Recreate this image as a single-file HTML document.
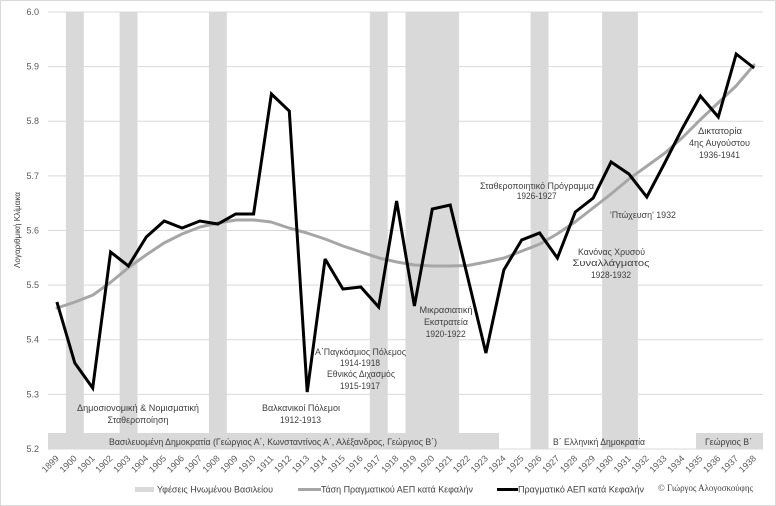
<!DOCTYPE html>
<html><head><meta charset="utf-8"><style>
html,body{margin:0;padding:0;background:#fff;}
svg{display:block;}
text{font-family:"Liberation Sans","DejaVu Sans",sans-serif;}
</style></head><body>
<svg width="776" height="506" viewBox="0 0 776 506" xmlns="http://www.w3.org/2000/svg">
<rect x="0.5" y="0.5" width="775" height="505" fill="#fff" stroke="#d9d9d9" stroke-width="1"/>
<!-- gridlines -->
<g stroke="#d9d9d9" stroke-width="1">
<line x1="48" x2="763" y1="12" y2="12"/>
<line x1="48" x2="763" y1="66.6" y2="66.6"/>
<line x1="48" x2="763" y1="121.2" y2="121.2"/>
<line x1="48" x2="763" y1="175.9" y2="175.9"/>
<line x1="48" x2="763" y1="230.5" y2="230.5"/>
<line x1="48" x2="763" y1="285.1" y2="285.1"/>
<line x1="48" x2="763" y1="339.7" y2="339.7"/>
<line x1="48" x2="763" y1="394.4" y2="394.4"/>
<line x1="48" x2="763" y1="449" y2="449"/>
</g>
<!-- recession bars -->
<g fill="#d9d9d9">
<rect x="65.9" y="12" width="17.9" height="437"/>
<rect x="119.6" y="12" width="17.9" height="437"/>
<rect x="208.9" y="12" width="17.9" height="437"/>
<rect x="369.8" y="12" width="17.9" height="437"/>
<rect x="405.5" y="12" width="53.6" height="437"/>
<rect x="530.6" y="12" width="17.9" height="437"/>
<rect x="602.1" y="12" width="35.8" height="437"/>
<!-- regime bands -->
<rect x="48" y="433" width="451" height="16"/>
<rect x="696" y="433" width="67" height="16"/>
</g>
<!-- y tick labels -->
<g font-size="9" fill="#595959" text-anchor="end">
<text x="39" y="15">6.0</text>
<text x="39" y="69.6">5.9</text>
<text x="39" y="124.2">5.8</text>
<text x="39" y="178.9">5.7</text>
<text x="39" y="233.5">5.6</text>
<text x="39" y="288.1">5.5</text>
<text x="39" y="342.7">5.4</text>
<text x="39" y="397.4">5.3</text>
<text x="39" y="452">5.2</text>
</g>
<text transform="translate(20,230) rotate(-90)" font-size="8" fill="#404040" text-anchor="middle" textLength="76" lengthAdjust="spacingAndGlyphs">Λογαριθμική Κλίμακα</text>
<!-- trend line -->
<polyline fill="none" stroke="#a6a6a6" stroke-width="3" stroke-linejoin="round" stroke-linecap="round" points="57,308 75,302 93,295 111,282 128,268 146,255 164,243 182,234 200,227 218,223 236,220 254,220 271,222 289,228 307,233 325,239 343,246 361,252 379,258 397,262 414,265 432,266 450,266 468,265.5 486,262 504,258 522,251 540,244 557,234 575,222 593,208 611,194 629,179 647,166 665,153 683,137 700,120 718,103 736,86 754,65"/>
<!-- actual line -->
<polyline fill="none" stroke="#000" stroke-width="3" stroke-linejoin="miter" stroke-miterlimit="3" points="56.9,302 74.8,363 92.7,388 110.6,252 128.4,266 146.3,237 164.2,221 182.1,228 199.9,221 217.8,224 235.7,214 253.6,214 271.4,94 289.3,111 307.2,392 325.1,259 342.9,289 360.8,287 378.7,307 396.6,201 414.4,306 432.3,209 450.2,205 468.1,279 485.9,353 503.8,270 521.7,240 539.6,233 557.4,258 575.3,212 593.2,198 611.1,162 628.9,174 646.8,197 664.7,163 682.6,128 700.4,96 718.3,117 736.2,54 754.1,68"/>
<!-- annotations -->
<g font-size="9" fill="#404040" text-anchor="middle">
<text x="138" y="411" textLength="122" lengthAdjust="spacingAndGlyphs">Δημοσιονομική &amp; Νομισματική</text>
<text x="138" y="423" textLength="61" lengthAdjust="spacingAndGlyphs">Σταθεροποίηση</text>
<text x="301" y="411" textLength="78" lengthAdjust="spacingAndGlyphs">Βαλκανικοί Πόλεμοι</text>
<text x="300.5" y="423" textLength="41" lengthAdjust="spacingAndGlyphs">1912-1913</text>
<text x="360.5" y="355" textLength="91" lengthAdjust="spacingAndGlyphs">Α΄Παγκόσμιος Πόλεμος</text>
<text x="360" y="366" textLength="40" lengthAdjust="spacingAndGlyphs">1914-1918</text>
<text x="361" y="377" textLength="68" lengthAdjust="spacingAndGlyphs">Εθνικός Διχασμός</text>
<text x="360" y="389" textLength="40" lengthAdjust="spacingAndGlyphs">1915-1917</text>
<text x="446" y="313" textLength="53" lengthAdjust="spacingAndGlyphs">Μικρασιατική</text>
<text x="446" y="325" textLength="44" lengthAdjust="spacingAndGlyphs">Εκστρατεία</text>
<text x="445.7" y="337" textLength="40" lengthAdjust="spacingAndGlyphs">1920-1922</text>
<text x="537" y="189" textLength="114" lengthAdjust="spacingAndGlyphs">Σταθεροποιητικό Πρόγραμμα</text>
<text x="536.7" y="199" textLength="40" lengthAdjust="spacingAndGlyphs">1926-1927</text>
<text x="643" y="218" textLength="66" lengthAdjust="spacingAndGlyphs">'Πτώχευση' 1932</text>
<text x="611.5" y="255" textLength="67" lengthAdjust="spacingAndGlyphs">Κανόνας Χρυσού</text>
<text x="611" y="266" textLength="77" lengthAdjust="spacingAndGlyphs">Συναλλάγματος</text>
<text x="611" y="278" textLength="40" lengthAdjust="spacingAndGlyphs">1928-1932</text>
<text x="720" y="134" textLength="44" lengthAdjust="spacingAndGlyphs">Δικτατορία</text>
<text x="719.5" y="146" textLength="61" lengthAdjust="spacingAndGlyphs">4ης Αυγούστου</text>
<text x="719.5" y="158" textLength="41" lengthAdjust="spacingAndGlyphs">1936-1941</text>
<!-- band labels -->
<text x="273" y="445" textLength="328" lengthAdjust="spacingAndGlyphs">Βασιλευομένη Δημοκρατία (Γεώργιος Α΄, Κωνσταντίνος Α΄, Αλέξανδρος, Γεώργιος Β΄)</text>
<text x="599" y="445" textLength="92" lengthAdjust="spacingAndGlyphs">Β΄ Ελληνική Δημοκρατία</text>
<text x="728.5" y="445" textLength="47" lengthAdjust="spacingAndGlyphs">Γεώργιος Β΄</text>
</g>
<!-- x labels -->
<g font-size="9" fill="#595959" text-anchor="end">
<text transform="translate(59.5,459) rotate(-45)">1899</text>
<text transform="translate(77.4,459) rotate(-45)">1900</text>
<text transform="translate(95.3,459) rotate(-45)">1901</text>
<text transform="translate(113.2,459) rotate(-45)">1902</text>
<text transform="translate(131,459) rotate(-45)">1903</text>
<text transform="translate(148.9,459) rotate(-45)">1904</text>
<text transform="translate(166.8,459) rotate(-45)">1905</text>
<text transform="translate(184.7,459) rotate(-45)">1906</text>
<text transform="translate(202.5,459) rotate(-45)">1907</text>
<text transform="translate(220.4,459) rotate(-45)">1908</text>
<text transform="translate(238.3,459) rotate(-45)">1909</text>
<text transform="translate(256.2,459) rotate(-45)">1910</text>
<text transform="translate(274,459) rotate(-45)">1911</text>
<text transform="translate(291.9,459) rotate(-45)">1912</text>
<text transform="translate(309.8,459) rotate(-45)">1913</text>
<text transform="translate(327.7,459) rotate(-45)">1914</text>
<text transform="translate(345.5,459) rotate(-45)">1915</text>
<text transform="translate(363.4,459) rotate(-45)">1916</text>
<text transform="translate(381.3,459) rotate(-45)">1917</text>
<text transform="translate(399.2,459) rotate(-45)">1918</text>
<text transform="translate(417,459) rotate(-45)">1919</text>
<text transform="translate(434.9,459) rotate(-45)">1920</text>
<text transform="translate(452.8,459) rotate(-45)">1921</text>
<text transform="translate(470.7,459) rotate(-45)">1922</text>
<text transform="translate(488.5,459) rotate(-45)">1923</text>
<text transform="translate(506.4,459) rotate(-45)">1924</text>
<text transform="translate(524.3,459) rotate(-45)">1925</text>
<text transform="translate(542.2,459) rotate(-45)">1926</text>
<text transform="translate(560,459) rotate(-45)">1927</text>
<text transform="translate(577.9,459) rotate(-45)">1928</text>
<text transform="translate(595.8,459) rotate(-45)">1929</text>
<text transform="translate(613.7,459) rotate(-45)">1930</text>
<text transform="translate(631.5,459) rotate(-45)">1931</text>
<text transform="translate(649.4,459) rotate(-45)">1932</text>
<text transform="translate(667.3,459) rotate(-45)">1933</text>
<text transform="translate(685.2,459) rotate(-45)">1934</text>
<text transform="translate(703,459) rotate(-45)">1935</text>
<text transform="translate(720.9,459) rotate(-45)">1936</text>
<text transform="translate(738.8,459) rotate(-45)">1937</text>
<text transform="translate(756.7,459) rotate(-45)">1938</text>
</g>
<!-- legend -->
<rect x="135" y="487" width="19" height="5" fill="#d9d9d9"/>
<line x1="298" x2="321" y1="489.5" y2="489.5" stroke="#a6a6a6" stroke-width="3"/>
<line x1="497" x2="518" y1="489.5" y2="489.5" stroke="#000" stroke-width="3"/>
<g font-size="9" fill="#404040">
<text x="157" y="492.5" textLength="116" lengthAdjust="spacingAndGlyphs">Υφέσεις Ηνωμένου Βασιλείου</text>
<text x="321" y="492.5" textLength="152" lengthAdjust="spacingAndGlyphs">Τάση Πραγματικού ΑΕΠ κατά Κεφαλήν</text>
<text x="518" y="492.5" textLength="126" lengthAdjust="spacingAndGlyphs">Πραγματικό ΑΕΠ κατά Κεφαλήν</text>
</g>
<text x="658" y="491" font-size="9" fill="#404040" style="font-family:'Liberation Serif','DejaVu Serif',serif" textLength="95" lengthAdjust="spacingAndGlyphs">© Γιώργος Αλογοσκούφης</text>
</svg>
</body></html>
